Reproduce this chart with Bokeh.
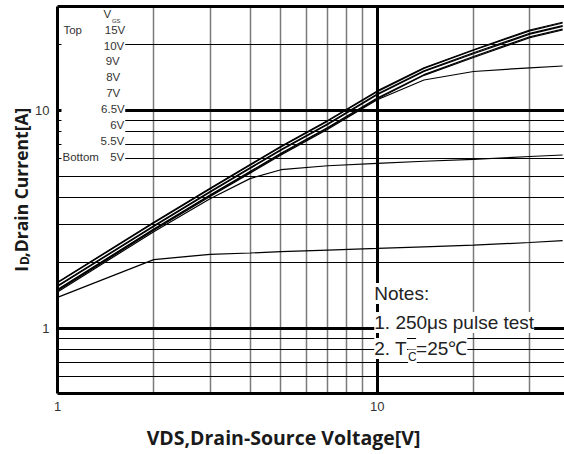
import math
from bokeh.plotting import figure
from bokeh.layouts import column, row
from bokeh.models import (LogAxis, FixedTicker, Grid, Label, BasicTickFormatter,
                          Range1d)
from bokeh.embed import file_html
from bokeh.resources import INLINE
from bokeh.core.properties import value

# ---------------- data ----------------
vds = [1, 2, 3, 4, 5, 7, 10, 14, 20, 30, 38]
id_15v = [1.63, 3.07, 4.40, 5.65, 6.85, 9.00, 12.3, 15.7, 19.0, 23.4, 25.4]
id_10v = [1.62, 3.05, 4.37, 5.61, 6.80, 8.94, 12.2, 15.6, 18.9, 23.2, 25.2]
id_9v = [1.57, 2.96, 4.25, 5.46, 6.62, 8.70, 11.9, 15.2, 18.4, 22.6, 24.5]
id_8v = [1.56, 2.94, 4.22, 5.42, 6.57, 8.63, 11.8, 15.1, 18.2, 22.4, 24.3]
id_7v = [1.51, 2.86, 4.10, 5.25, 6.36, 8.35, 11.4, 14.6, 17.7, 21.8, 23.6]
id_6_5v = [1.50, 2.84, 4.07, 5.21, 6.31, 8.29, 11.3, 14.5, 17.5, 21.6, 23.4]
id_6v = [1.49, 2.82, 4.03, 5.16, 6.25, 8.20, 11.2, 13.8, 15.1, 15.7, 16.0]
id_5_5v = [1.47, 2.78, 3.94, 4.87, 5.35, 5.58, 5.72, 5.85, 5.97, 6.15, 6.25]
id_5v = [1.39, 2.07, 2.19, 2.22, 2.25, 2.29, 2.33, 2.37, 2.41, 2.48, 2.53]

curves = [id_15v, id_10v, id_9v, id_8v, id_7v, id_6_5v, id_6v, id_5_5v, id_5v]
vgs_labels = ["15V", "10V", "9V", "8V", "7V", "6.5V", "6V", "5.5V", "5V"]

x_tick_values = [1, 10]
x_tick_labels = ["1", "10"]
y_tick_values = [1, 10]
y_tick_labels = ["1", "10"]
x_minor_grid = [2, 3, 4, 5, 6, 7, 8, 9, 20, 30]
y_minor_grid = [0.6, 0.7, 0.8, 0.9, 2, 3, 4, 5, 6, 7, 8, 9, 20]
x_major_grid = [10]
y_major_grid = [1, 10]

x_title = "VDS,Drain-Source Voltage[V]"
y_title_main = "I"
y_title_sub = "D"
y_title_rest = ",Drain Current[A]"
notes_title = "Notes:"
note1 = "1. 250\u03bcs pulse test"
note2_a = "2. T"
note2_sub = "C"
note2_b = "=25\u2103"

# ---------------- layout ----------------
W = 564          # total width
H = 454          # total height
W_YT = 32        # strip holding the y title
H_MAIN = 420     # height of the main plot (frame + x tick labels)
FL, FT, FB = 55, 6, 393   # frame left / top / bottom (page px)
PX0, PXD = 55.0, 321.0    # page x of VDS=1 and pixels per decade
PY0, PYD = 328.0, 218.0   # page y of ID=1 and pixels per decade


def dx(px):
    return 10 ** ((px - PX0) / PXD)


def dy(py):
    return 10 ** ((PY0 - py) / PYD)


def blank(width, height):
    f = figure(width=width, height=height, x_range=Range1d(0, width),
               y_range=Range1d(0, height), output_backend="svg",
               toolbar_location=None, x_axis_location=None, y_axis_location=None,
               min_border=0)
    f.outline_line_color = None
    f.xgrid.visible = False
    f.ygrid.visible = False
    return f


p = figure(width=W - W_YT, height=H_MAIN, x_axis_type="log", y_axis_type="log",
           x_range=Range1d(1, dx(W)), y_range=Range1d(dy(FB), dy(FT)),
           output_backend="svg", toolbar_location=None,
           min_border_left=FL - W_YT, min_border_right=0, min_border_top=FT,
           min_border_bottom=H_MAIN - FB)
p.outline_line_color = None

for ax, ticks, labels in ((p.xaxis[0], x_tick_values, x_tick_labels),
                          (p.yaxis[0], y_tick_values, y_tick_labels)):
    ax.ticker = FixedTicker(ticks=ticks)
    ax.formatter = BasicTickFormatter()
    ax.major_label_overrides = {v: l for v, l in zip(ticks, labels)}
    ax.axis_line_width = 3
    ax.axis_line_color = "black"
    ax.major_tick_line_color = None
    ax.minor_tick_line_color = None
    ax.major_tick_out = 0
    ax.minor_tick_out = 0
    ax.major_tick_in = 0
    ax.minor_tick_in = 0
    ax.major_label_text_font = "Liberation Sans"
    ax.major_label_text_font_size = "13px"
    ax.major_label_text_color = "#333333"
p.xaxis.major_label_standoff = 8
p.yaxis.major_label_standoff = 8

top_axis = LogAxis(ticker=FixedTicker(ticks=[]), axis_line_width=3,
                   axis_line_color="black", major_tick_out=0, minor_tick_out=0,
                   major_tick_in=0, minor_tick_in=0, major_label_standoff=0)
p.add_layout(top_axis, "above")

p.xgrid.ticker = FixedTicker(ticks=x_minor_grid)
p.xgrid.grid_line_color = "#7a7a7a"
p.xgrid.grid_line_width = 1.5
p.ygrid.ticker = FixedTicker(ticks=y_minor_grid)
p.ygrid.grid_line_color = "black"
p.ygrid.grid_line_width = 1
p.add_layout(Grid(dimension=0, ticker=FixedTicker(ticks=x_major_grid),
                  grid_line_color="black", grid_line_width=3))
p.add_layout(Grid(dimension=1, ticker=FixedTicker(ticks=y_major_grid),
                  grid_line_color="black", grid_line_width=3))

# legend background (hides grid lines behind the V_GS list)
p.quad(left=[dx(59)], right=[dx(123)], bottom=[dy(167)], top=[dy(FT)],
       fill_color="white", line_color=None)

for ys in curves:
    p.line(vds, ys, line_color="black", line_width=1.2)

lab_right = [123, 122, 117.5, 118, 118, 122.5, 122, 122, 122]
lab_y = [29.3 + i * 15.84 for i in range(len(vgs_labels))]
leg = dict(text_font=value("Liberation Sans"), text_color="#333333",
           text_baseline="middle")
p.text(x=[dx(r) for r in lab_right], y=[dy(v) for v in lab_y], text=vgs_labels,
       text_align="right", text_font_size="11.5px", **leg)
p.text(x=[dx(61), dx(60)], y=[dy(lab_y[0]), dy(lab_y[-1])], text=["Top", "Bottom"],
       text_align="left", text_font_size="11.5px", **leg)
p.text(x=[dx(105)], y=[dy(13.5)], text=["V"], text_align="center",
       text_font_size="11.5px", **leg)
p.text(x=[dx(114)], y=[dy(20)], text=["GS"], text_align="center",
       text_font_size="6px", **leg)

note_style = dict(text_font="Liberation Sans", text_color="#222222",
                  background_fill_color="white", background_fill_alpha=1.0,
                  text_align="left", text_baseline="middle")
for txt, px, py, fs in ((notes_title, 373, 293, "19px"), (note1, 373, 322, "19px"),
                        (note2_a, 373, 348, "19px"), (note2_sub, 407, 356, "12px"),
                        (note2_b, 415, 348, "19px")):
    p.add_layout(Label(x=dx(px), y=dy(py), text=txt, text_font_size=fs,
                       **note_style))

# y title strip (x: page px, y: page px measured up from the strip bottom)
fy = blank(W_YT, H_MAIN)
ttl = dict(text_font=value("Open Sans"), text_font_style="bold",
           text_color="#1a1a1a", angle=math.pi / 2, text_align="left",
           text_baseline="alphabetic")
fy.text(x=[20], y=[H_MAIN - 288], text=[y_title_main], text_font_size="17.5px", **ttl)
fy.text(x=[24], y=[H_MAIN - 280.5], text=[y_title_sub], text_font_size="12px",
        **ttl)
fy.text(x=[20], y=[H_MAIN - 272], text=[y_title_rest], text_font_size="17.5px",
        **ttl)

# x title strip
fx = blank(W, H - H_MAIN)
fx.text(x=[283], y=[H - 437], text=[x_title], text_font=value("Open Sans"),
        text_font_style="bold", text_color="#1a1a1a", text_align="center",
        text_baseline="middle", text_font_size="19.5px")

layout = column(row(fy, p), fx)
open("out.html", "w").write(file_html(layout, INLINE))
